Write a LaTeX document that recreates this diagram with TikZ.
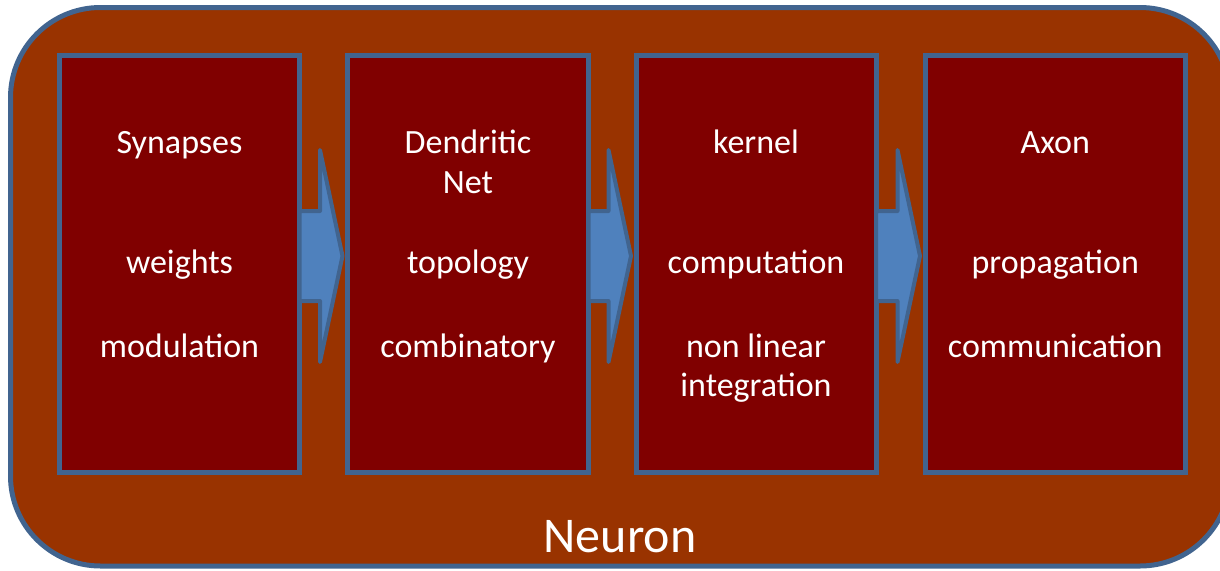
\documentclass[tikz,border=0pt]{standalone}
\usepackage{fontspec}
\setmainfont{Carlito}
\usetikzlibrary{calc}
\definecolor{outerfill}{HTML}{993300}
\definecolor{boxfill}{HTML}{800000}
\definecolor{edge}{HTML}{41648F}
\definecolor{arrfill}{HTML}{4F81BD}
\tikzset{
  outerbox/.style={draw=edge, fill=outerfill, line width=5pt, rounded corners=90pt},
  stagebox/.style={draw=edge, fill=boxfill, line width=5pt, inner sep=0pt, minimum height=416.5pt},
  blockarr/.style={draw=edge, fill=arrfill, line width=4pt, line join=round},
  lbl/.style={text=white, font=\fontsize{34}{40}\selectfont, inner sep=0pt, anchor=base},
  title/.style={text=white, font=\fontsize{50}{58}\selectfont, inner sep=0pt, anchor=base}
}
\newcommand{\stagearrow}[2]{%
  \draw[blockarr] let \p1=(#1.east), \p2=(#2.west) in
    (\x1-2.5pt,\y1+52.75pt) -- (\x2-25pt,\y1+52.75pt) -- (\x2-25pt,\y1+113.75pt)
    -- (\x2-2.5pt,\y1+7.75pt)
    -- (\x2-25pt,\y1-98.25pt) -- (\x2-25pt,\y1-37.25pt) -- (\x1-2.5pt,\y1-37.25pt) -- cycle;}
\begin{document}
\begin{tikzpicture}[x=1pt,y=-1pt]
\useasboundingbox (0,0) rectangle (1220,570);
\draw[outerbox] (10.5,7.5) rectangle (1230,566);
\node[stagebox, minimum width=240pt] (b1) at (179.5,263.75) {};
\node[stagebox, minimum width=241pt] (b2) at (468,263.75) {};
\node[stagebox, minimum width=240pt] (b3) at (756,263.75) {};
\node[stagebox, minimum width=260.5pt] (b4) at (1055.25,263.75) {};
\stagearrow{b1}{b2}
\stagearrow{b2}{b3}
\stagearrow{b3}{b4}
\node[lbl] (s1) at (179.5,153) {Synapses};
\node[lbl] (s2) at (179.5,273) {weights};
\node[lbl] (s3) at (179.5,357) {modulation};
\node[lbl] (d1) at (468,153) {Dendritic};
\node[lbl] (d2) at (468,193) {Net};
\node[lbl] (d3) at (468,273) {topology};
\node[lbl] (d4) at (468,357) {combinatory};
\node[lbl] (k1) at (756,153) {kernel};
\node[lbl] (k2) at (756,273) {computation};
\node[lbl] (k3) at (756,357) {non linear};
\node[lbl] (k4) at (756,396) {integration};
\node[lbl] (a1) at (1055.25,153) {Axon};
\node[lbl] (a2) at (1055.25,273) {propagation};
\node[lbl] (a3) at (1055.25,357) {communication};
\node[title] (neuron) at (620,552.7) {Neuron};
\end{tikzpicture}
\end{document}
